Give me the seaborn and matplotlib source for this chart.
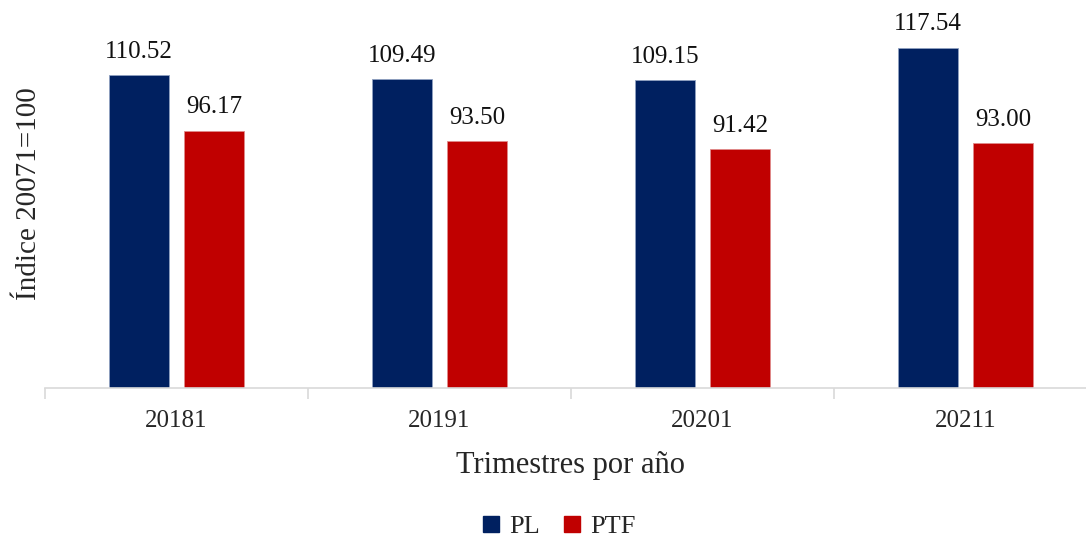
import matplotlib
matplotlib.use("Agg")
import matplotlib.pyplot as plt
import seaborn as sns
import pandas as pd
from matplotlib.patches import Patch

# data
trimestres = ['20181', '20191', '20201', '20211']
pl = [110.52, 109.49, 109.15, 117.54]
ptf = [96.17, 93.50, 91.42, 93.00]
series = ['PL', 'PTF']
colores = ['#002060', '#C00000']

df = pd.DataFrame({
    'Trimestre': trimestres * 2,
    'Serie': ['PL'] * 4 + ['PTF'] * 4,
    'Valor': pl + ptf,
})

sns.set_style("white")
plt.rcParams['font.family'] = ['Liberation Serif', 'DejaVu Serif']

fig = plt.figure(figsize=(10.86, 5.40), dpi=100)
ax = fig.add_axes([45 / 1086, 1 - 387.5 / 540, 1052 / 1086, 388 / 540])

sns.barplot(data=df, x='Trimestre', y='Valor', hue='Serie', palette=colores,
            saturation=1, width=0.57, gap=0.21, ax=ax, legend=False,
            errorbar=None, linewidth=0.6)
# thin lighter edge round the bars
for cont, ec in zip(ax.containers, ['#8fa0c0', '#e08a8a']):
    for b in cont:
        b.set_edgecolor(ec)
    ax.bar_label(cont, fmt='%.2f', padding=9, fontsize=18, color='#111111')

ax.set_ylim(30, 130)
ax.set_xlim(-0.5, 3.5)
ax.set_yticks([])
for s in ['top', 'right', 'left']:
    ax.spines[s].set_visible(False)
ax.spines['bottom'].set_color('#d9d9d9')
ax.spines['bottom'].set_linewidth(1.2)
ax.set_xticks(range(4))
ax.set_xticklabels(trimestres, fontsize=18)
ax.set_xticks([-0.5, 0.5, 1.5, 2.5, 3.5], minor=True)
ax.tick_params(axis='x', which='major', length=0, pad=16)
ax.tick_params(axis='x', which='minor', bottom=True, length=8,
               color='#d9d9d9', width=1.2)

ax.set_xlabel('Trimestres por año', fontsize=22, labelpad=14)
ax.set_ylabel('Índice 20071=100', fontsize=21, labelpad=2)

handles = [Patch(facecolor=c, edgecolor=c) for c in colores]
fig.legend(handles, series, loc='center', bbox_to_anchor=(0.515, 1 - 527 / 540),
           ncol=2, frameon=False, fontsize=19, handlelength=0.6, handleheight=0.6,
           handletextpad=0.4, columnspacing=0.9)

fig.savefig('out.png', dpi=100)
